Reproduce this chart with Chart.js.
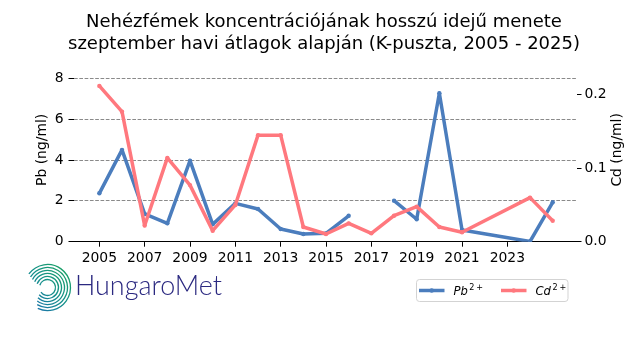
<!DOCTYPE html>
<html>
<head>
<meta charset="utf-8">
<script src="https://cdn.jsdelivr.net/npm/chart.js@4.4.1/dist/chart.umd.min.js"></script>
<style>
  html, body { margin: 0; padding: 0; background: #fff; }
  canvas { display: block; }
</style>
</head>
<body>
<canvas id="chart" width="640" height="360"></canvas>
<script>
// K-puszta, September means. 2022-2023 not in the series, Pb 2017 missing.
const YEARS = [2005, 2006, 2007, 2008, 2009, 2010, 2011, 2012, 2013, 2014,
               2015, 2016, 2017, 2018, 2019, 2020, 2021, 2024, 2025];
const PB = [2.37, 4.50, 1.36, 0.90, 3.97, 0.85, 1.88, 1.60, 0.62, 0.38,
            0.41, 1.27, null, 2.01, 1.10, 7.27, 0.57, 0.01, 1.93];
const CD = [0.212, 0.177, 0.022, 0.114, 0.077, 0.015, 0.050, 0.145, 0.145, 0.020,
            0.0105, 0.025, 0.0114, 0.0354, 0.0477, 0.020, 0.0128, 0.060, 0.0286];

const X_TICKS  = [2005, 2007, 2009, 2011, 2013, 2015, 2017, 2019, 2021, 2023];
const PB_TICKS = [0, 2, 4, 6, 8];
const CD_TICKS = [0, 0.1, 0.2];

const TITLE = [
  'Nehézfémek koncentrációjának hosszú idejű menete',
  'szeptember havi átlagok alapján (K-puszta, 2005 - 2025)'
];

const BLUE = '#4b7dbd';
const RED  = '#ff787e';
const FONT = 'DejaVu Sans';

Chart.defaults.font.family = FONT;
Chart.defaults.color = '#000';

// legend, right axis label and logo
const extras = {
  id: 'extras',
  afterDraw(chart) {
    const ctx = chart.ctx;
    const area = chart.chartArea;
    ctx.save();

    // right axis label (reads bottom to top like the left one)
    ctx.font = '13.9px "' + FONT + '"';
    ctx.fillStyle = '#000';
    ctx.textAlign = 'center';
    ctx.textBaseline = 'middle';
    ctx.translate(617, (area.top + area.bottom) / 2);
    ctx.rotate(-Math.PI / 2);
    ctx.fillText('Cd (ng/ml)', 0, 0);
    ctx.setTransform(1, 0, 0, 1, 0, 0);

    // legend box
    ctx.beginPath();
    ctx.roundRect(416.5, 279.5, 151.5, 22, 3);
    ctx.fillStyle = 'rgba(255,255,255,0.8)';
    ctx.fill();
    ctx.strokeStyle = '#d3d3d3';
    ctx.lineWidth = 1;
    ctx.stroke();

    const items = [
      { x: 419, name: 'Pb', color: BLUE },
      { x: 501, name: 'Cd', color: RED }
    ];
    const ly = 290.5;
    items.forEach(it => {
      ctx.strokeStyle = it.color;
      ctx.lineWidth = 3.5;
      ctx.lineCap = 'butt';
      ctx.beginPath();
      ctx.moveTo(it.x, ly);
      ctx.lineTo(it.x + 25.5, ly);
      ctx.stroke();
      ctx.fillStyle = it.color;
      ctx.beginPath();
      ctx.arc(it.x + 12.7, ly, 2.2, 0, Math.PI * 2);
      ctx.fill();

      ctx.fillStyle = '#000';
      ctx.textAlign = 'left';
      ctx.textBaseline = 'alphabetic';
      ctx.font = 'italic 11.6px "' + FONT + '"';
      const tx = it.x + 34.5;
      ctx.fillText(it.name, tx, ly + 4.5);
      const w = ctx.measureText(it.name).width;
      ctx.font = '8.1px "' + FONT + '"';
      ctx.fillText('2', tx + w + 1.5, ly - 0.5);
      ctx.fillText('+', tx + w + 8.5, ly - 0.5);
    });

    // HungaroMet logo
    const cx = 47.5, cy = 287.5;
    const grad = ctx.createLinearGradient(70, 264, 26, 308);
    grad.addColorStop(0, '#1ea55c');
    grad.addColorStop(0.5, '#14918a');
    grad.addColorStop(1, '#1f6eb2');
    ctx.strokeStyle = grad;
    ctx.lineWidth = 1.3;
    for (let i = 0; i < 6; i++) {
      const r = 8 + i * 3;
      const a0 = (196 + i * 4) * Math.PI / 180;
      const a1 = (505 - i * 6) * Math.PI / 180;
      ctx.beginPath();
      ctx.arc(cx, cy, r, a0, a1);
      ctx.stroke();
    }

    ctx.fillStyle = '#2b2980';
    ctx.textAlign = 'left';
    ctx.textBaseline = 'alphabetic';
    let size = 28;
    ctx.font = '300 ' + size + 'px Lato';
    const mw = ctx.measureText('HungaroMet').width;
    size = size * 147 / mw;
    ctx.font = '300 ' + size.toFixed(2) + 'px Lato';
    ctx.fillText('HungaroMet', 75, 295);

    ctx.restore();
  }
};

new Chart(document.getElementById('chart'), {
  type: 'line',
  data: {
    datasets: [
      {
        label: 'Pb2+',
        data: YEARS.map((x, i) => ({ x, y: PB[i] })),
        yAxisID: 'y',
        borderColor: BLUE,
        backgroundColor: BLUE,
        borderWidth: 3.5,
        pointRadius: 2.2,
        pointBorderWidth: 0,
        borderJoinStyle: 'round',
        tension: 0,
        order: 1,
      },
      {
        label: 'Cd2+',
        data: YEARS.map((x, i) => ({ x, y: CD[i] })),
        yAxisID: 'y1',
        borderColor: RED,
        backgroundColor: RED,
        borderWidth: 3.5,
        pointRadius: 2.2,
        pointBorderWidth: 0,
        borderJoinStyle: 'round',
        tension: 0,
        order: 0,
      },
    ],
  },
  options: {
    responsive: false,
    animation: false,
    devicePixelRatio: 1,
    layout: { padding: { left: 8, right: 0, top: 0, bottom: 0 } },
    plugins: {
      legend: { display: false },
      tooltip: { enabled: false },
      title: {
        display: true,
        text: TITLE,
        color: '#000',
        font: { size: 18, weight: 'normal', lineHeight: 1.222 },
        padding: { top: 11, bottom: 3 },
      },
    },
    scales: {
      x: {
        type: 'linear',
        min: 2003.86,
        max: 2026.05,
        afterBuildTicks: s => { s.ticks = X_TICKS.map(v => ({ value: v })); },
        afterFit: s => { s.height = 118.3; },
        ticks: {
          autoSkip: false,
          maxRotation: 0,
          padding: 3,
          color: '#000',
          font: { size: 13.9 },
          callback: v => String(v),
        },
        grid: { drawOnChartArea: false, drawTicks: true, tickLength: 5, tickColor: '#000', tickWidth: 1 },
        border: { display: true, color: '#000', width: 1.1 },
      },
      y: {
        position: 'left',
        min: 0,
        max: 9,
        afterBuildTicks: s => { s.ticks = PB_TICKS.map(v => ({ value: v })); },
        afterFit: s => { s.width = 65.5; },
        ticks: { padding: 5, color: '#000', font: { size: 13.9 } },
        grid: {
          color: c => (c.tick && c.tick.value === 0) ? 'rgba(0,0,0,0)' : '#8a8a8a',
          lineWidth: 1,
          drawTicks: true,
          tickLength: 5,
          tickColor: '#000',
          tickWidth: 1,
        },
        border: { display: false, dash: [3.7, 1.6] },
        title: {
          display: true,
          text: 'Pb (ng/ml)',
          color: '#000',
          font: { size: 13.9 },
          padding: { top: 26.5, bottom: 0 },
        },
      },
      y1: {
        position: 'right',
        min: 0,
        max: 0.25,
        afterBuildTicks: s => { s.ticks = CD_TICKS.map(v => ({ value: v })); },
        afterFit: s => { s.width = 63.5; },
        ticks: { padding: 3, color: '#000', font: { size: 13.9 }, callback: v => v.toFixed(1) },
        grid: { drawOnChartArea: false, drawTicks: true, tickLength: 5, tickColor: '#000', tickWidth: 1 },
        border: { display: false },
      },
    },
  },
  plugins: [extras],
});
</script>
</body>
</html>
